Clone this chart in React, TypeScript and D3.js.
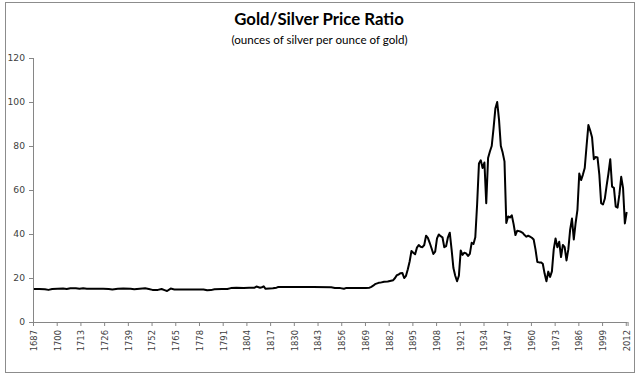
import React from "react";
import * as d3 from "d3";

const years: number[] = [
  1687, 1690, 1693, 1695, 1697, 1700, 1703, 1705, 1707, 1710, 1712, 1714, 1716, 1720, 1725, 1728, 1730, 1733, 1736, 1740,
  1742, 1745, 1748, 1750, 1752, 1755, 1757, 1759, 1760, 1762, 1764, 1770, 1775, 1780, 1782, 1784, 1786, 1790, 1793, 1795,
  1798, 1802, 1805, 1808, 1809, 1811, 1812, 1813, 1814, 1816, 1818, 1820, 1821, 1830, 1840, 1850, 1852, 1855, 1857, 1858,
  1865, 1869, 1871, 1872, 1873, 1874, 1876, 1877, 1879, 1881, 1884, 1885, 1886, 1887, 1888, 1889, 1890, 1891, 1892, 1893,
  1894, 1895, 1896, 1897, 1898, 1899, 1900, 1901, 1902, 1903, 1904, 1905, 1906, 1907, 1908, 1909, 1910, 1911, 1912, 1913,
  1914, 1915, 1916, 1917, 1918, 1919, 1920, 1921, 1922, 1923, 1924, 1925, 1926, 1927, 1928, 1929, 1930, 1931, 1932, 1933,
  1934, 1935, 1936, 1937, 1938, 1939, 1940, 1941, 1942, 1943, 1944, 1945, 1946, 1947, 1948, 1949, 1950, 1951, 1952, 1953,
  1954, 1955, 1956, 1957, 1958, 1959, 1960, 1961, 1962, 1963, 1964, 1965, 1966, 1967, 1968, 1969, 1970, 1971, 1972, 1973,
  1974, 1975, 1976, 1977, 1978, 1979, 1980, 1981, 1982, 1983, 1984, 1985, 1986, 1987, 1988, 1989, 1990, 1991, 1992, 1993,
  1994, 1995, 1996, 1997, 1998, 1999, 2000, 2001, 2002, 2003, 2004, 2005, 2006, 2007, 2008, 2009, 2010, 2011, 2012,
];

const ratios: number[] = [
  15.0, 15.0, 14.9, 14.6, 15.0, 15.1, 15.2, 15.0, 15.3, 15.3, 15.1, 15.3, 15.1, 15.1, 15.1, 15.0, 14.8, 15.1, 15.2, 15.1,
  14.9, 15.1, 15.3, 15.0, 14.6, 14.6, 15.0, 14.4, 14.1, 15.2, 14.8, 14.8, 14.8, 14.8, 14.4, 14.5, 14.9, 15.0, 15.0, 15.4,
  15.6, 15.4, 15.6, 15.6, 16.1, 15.6, 15.8, 16.2, 15.1, 15.2, 15.3, 15.6, 15.9, 15.9, 15.9, 15.8, 15.5, 15.4, 15.1, 15.4,
  15.4, 15.5, 15.6, 16.0, 16.5, 17.2, 17.8, 17.9, 18.3, 18.4, 19.0, 20.0, 21.3, 21.6, 22.2, 22.3, 20.0, 21.0, 24.0, 27.5,
  32.3, 31.5, 30.8, 33.8, 35.0, 34.2, 34.0, 35.0, 39.2, 38.2, 36.0, 33.5, 30.9, 32.0, 38.0, 39.8, 39.0, 38.5, 34.0, 34.5,
  38.5, 40.6, 33.0, 24.5, 21.0, 18.5, 21.0, 32.5, 30.5, 31.5, 31.2, 30.0, 31.0, 36.0, 35.5, 38.5, 53.5, 72.0, 73.5, 70.0,
  72.5, 54.0, 74.5, 77.5, 80.0, 88.0, 97.0, 100.0, 92.0, 80.0, 77.0, 73.0, 45.0, 48.0, 47.5, 48.5, 44.5, 39.5, 41.5, 41.3,
  41.0, 40.5, 39.5, 38.8, 39.2, 38.8, 38.3, 37.5, 33.0, 27.3, 27.1, 27.1, 26.5, 22.0, 18.5, 22.9, 20.5, 23.0, 33.0, 38.0,
  34.0, 36.5, 29.5, 35.0, 34.0, 28.0, 33.0, 42.0, 47.0, 37.5, 45.0, 51.0, 67.5, 64.5, 67.0, 70.0, 80.0, 89.5, 87.0, 84.0,
  74.0, 75.0, 74.8, 67.0, 54.0, 53.4, 56.0, 62.0, 67.5, 74.0, 61.5, 61.0, 52.4, 52.0, 58.0, 66.0, 61.0, 44.8, 50.0,
];

const yTicks: number[] = [0, 20, 40, 60, 80, 100, 120];
const xTickLabels: number[] = [
  1687, 1700, 1713, 1726, 1739, 1752, 1765, 1778, 1791, 1804, 1817, 1830, 1843, 1856, 1869, 1882, 1895, 1908, 1921, 1934,
  1947, 1960, 1973, 1986, 1999, 2012,
];

const titleText = "Gold/Silver Price Ratio";
const subtitleText = "(ounces of silver per ounce of gold)";

export default function App() {
  const W = 639;
  const H = 375;
  const left = 33;
  const right = 627.6;
  const top = 58;
  const bottom = 322;

  const x = d3.scaleLinear().domain([1687, 2013]).range([left, right]);
  const y = d3.scaleLinear().domain([0, 120]).range([bottom, top]);

  const data = years.map((yr, i) => ({ yr, v: ratios[i] }));
  const line = d3
    .line<{ yr: number; v: number }>()
    .x((d) => x(d.yr + 0.5))
    .y((d) => y(d.v));

  const axisColor = "#868686";
  const labelColor = "#404040";

  return (
    <svg
      width={W}
      height={H}
      style={{ position: "absolute", left: 0, top: 0, background: "#fff" }}
    >
      <rect x={5.5} y={2.5} width={629} height={370} fill="#fff" stroke="#8c8c8c" strokeWidth={1} />
      <text
        x={319}
        y={25}
        textAnchor="middle"
        fontFamily="Lato, 'Open Sans', sans-serif"
        fontWeight="bold"
        fontSize={16.8}
        fill="#000"
      >
        {titleText}
      </text>
      <text
        x={319.5}
        y={44}
        textAnchor="middle"
        fontFamily="Lato, 'Open Sans', sans-serif"
        fontSize={11.6}
        fill="#000"
      >
        {subtitleText}
      </text>

      {/* y axis */}
      <line x1={left + 0.5} x2={left + 0.5} y1={top} y2={bottom} stroke={axisColor} strokeWidth={1} />
      {yTicks.map((t) => (
        <g key={t}>
          <line x1={left - 4} x2={left} y1={y(t) + 0.5} y2={y(t) + 0.5} stroke={axisColor} strokeWidth={1} />
          <text
            x={25}
            y={y(t)}
            dy="0.35em"
            textAnchor="end"
            fontFamily="'DejaVu Sans', Verdana, sans-serif"
            fontSize={9.2}
            fill={labelColor}
          >
            {t}
          </text>
        </g>
      ))}

      {/* x axis */}
      <line x1={left} x2={right} y1={bottom + 0.5} y2={bottom + 0.5} stroke={axisColor} strokeWidth={1} />
      {xTickLabels.map((t) => (
        <g key={t}>
          <line x1={x(t) + 0.5} x2={x(t) + 0.5} y1={bottom} y2={bottom + 4} stroke={axisColor} strokeWidth={1} />
          <text
            transform={`translate(${x(t + 0.5)},330) rotate(-90)`}
            dy="0.35em"
            textAnchor="end"
            fontFamily="'DejaVu Sans', Verdana, sans-serif"
            fontSize={8.4}
            fill={labelColor}
          >
            {t}
          </text>
        </g>
      ))}
      <line x1={right + 0.5} x2={right + 0.5} y1={bottom} y2={bottom + 4} stroke={axisColor} strokeWidth={1} />

      <path d={line(data) || ""} fill="none" stroke="#000" strokeWidth={2} strokeLinejoin="round" />
    </svg>
  );
}
